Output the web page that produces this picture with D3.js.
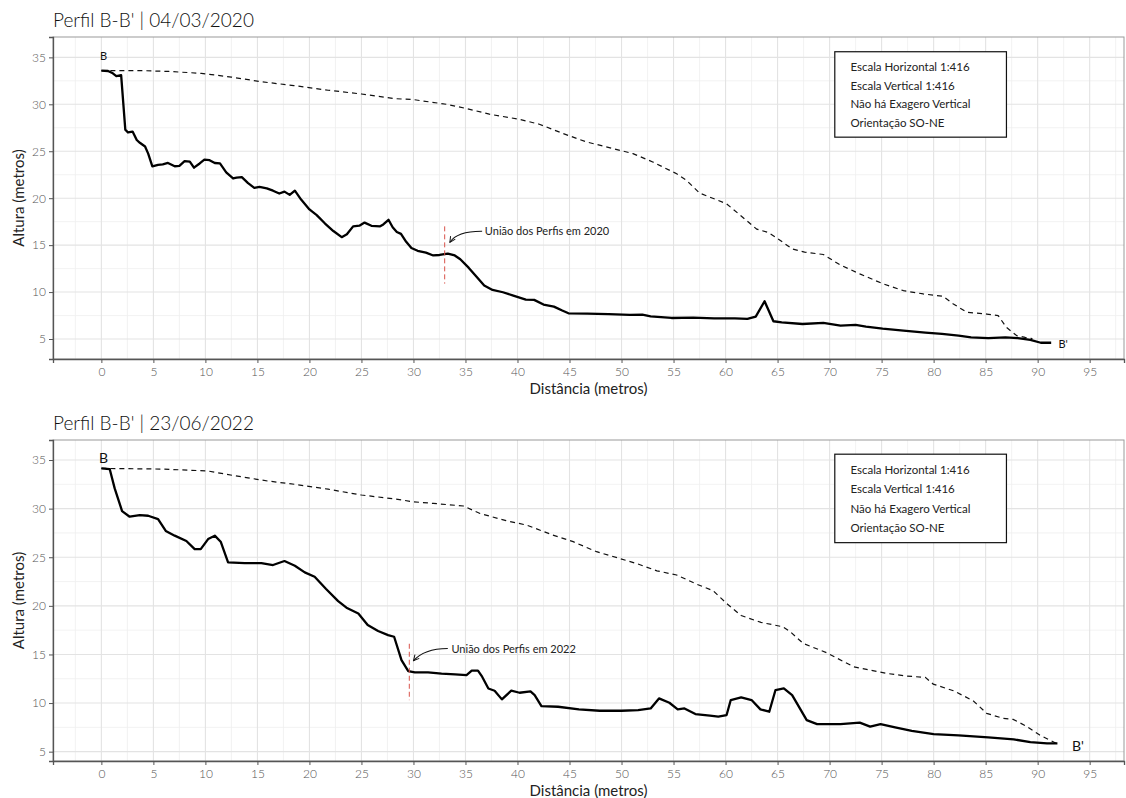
<!DOCTYPE html>
<html>
<head>
<meta charset="utf-8">
<script src="https://cdn.jsdelivr.net/npm/d3@7"></script>
<style>
  body { margin: 0; background: #fff; }
  text { font-family: Lato, "Open Sans", sans-serif; }
</style>
</head>
<body>
<div id="container"></div>
<script>
// perfil B-B' 2020 (linha cheia) e linha tracejada
var dist2020 = [0,0.64,1.1,1.44,1.9,2.3,2.56,3.0,3.4,3.7,4.2,4.5,4.9,5.45,5.9,6.4,7.05,7.5,8.0,8.5,8.9,9.45,9.9,10.4,10.9,11.4,12.0,12.66,13.0,13.5,14.1,14.7,15.2,15.9,16.5,17.1,17.6,18.1,18.6,19.2,20.0,20.7,21.5,22.3,23.1,23.6,24.2,24.8,25.3,25.96,26.8,27.1,27.6,28.0,28.4,28.8,29.3,29.8,30.4,31.2,31.9,32.5,33.3,33.97,34.5,35.3,36.0,36.8,37.6,38.6,39.6,40.8,41.6,42.5,43.5,44.3,44.9,46.7,48.75,50.8,52.0,52.8,54.8,56.9,58.9,60.9,62.1,62.9,63.75,64.6,65.4,67.4,69.4,71.05,72.5,73.5,75.1,77.1,79.2,80.8,82.4,83.6,85.25,86.9,88.1,89.3,90.3,91.3];
var alt2020 = [33.58,33.55,33.3,33.0,33.1,27.3,27.0,27.1,26.2,25.9,25.5,24.75,23.4,23.55,23.6,23.75,23.4,23.45,23.95,23.9,23.25,23.7,24.1,24.05,23.75,23.7,22.75,22.1,22.2,22.25,21.6,21.1,21.2,21.05,20.8,20.5,20.7,20.35,20.8,19.85,18.8,18.2,17.3,16.5,15.85,16.15,17.0,17.07,17.4,17.06,17.0,17.2,17.7,16.9,16.4,16.2,15.35,14.7,14.4,14.2,13.9,13.95,14.1,13.9,13.5,12.6,11.7,10.7,10.23,9.98,9.63,9.2,9.17,8.67,8.45,8.03,7.74,7.7,7.64,7.56,7.6,7.42,7.24,7.28,7.2,7.2,7.14,7.39,9.02,6.89,6.78,6.6,6.71,6.43,6.5,6.32,6.1,5.89,5.68,5.54,5.36,5.18,5.1,5.18,5.1,4.9,4.6,4.6];
var distTrac2020 = [0,4.2,6.5,9.6,12.5,15.4,18.5,21.8,25.0,28.2,30.0,33.2,35.1,37.3,40.2,42.1,44.4,46.6,49.2,51.1,53.0,55.3,56.25,57.5,60.1,61.4,63.0,64.1,65.0,66.4,67.6,69.4,71.0,72.9,75.15,77.1,79.0,80.9,81.9,83.2,85.1,86.2,87.0,88.0,88.8,89.5];
var altTrac2020 = [33.58,33.58,33.5,33.3,32.9,32.4,32.0,31.5,31.1,30.6,30.5,30.0,29.55,28.95,28.4,27.88,26.88,26.0,25.28,24.75,23.86,22.6,21.9,20.55,19.4,18.2,16.7,16.35,15.7,14.6,14.25,14.0,12.9,11.94,10.87,10.15,9.8,9.55,8.73,7.84,7.66,7.5,6.24,5.35,5.17,5.05];

// perfil B-B' 2022
var dist2022 = [0,0.8,1.28,1.99,2.72,3.69,4.5,5.45,6.19,7.05,8.17,8.97,9.55,10.26,10.9,11.47,12.18,13.78,15.38,16.5,17.6,18.6,19.55,20.5,21.6,22.76,23.56,24.7,25.6,26.6,27.56,28.14,28.85,29.5,30.13,31.4,32.7,34.0,35.1,35.6,36.2,36.6,37.2,37.8,38.5,39.4,40.2,41.25,41.65,42.3,43.9,45.9,47.9,50.0,51.6,52.8,53.6,54.6,55.4,56.05,57.1,58.5,59.3,60.1,60.5,61.5,62.5,63.35,64.2,64.8,65.6,66.4,67.8,68.8,71.05,72.9,73.9,74.9,76.3,77.9,80.0,82.4,85.25,87.7,89.3,90.9,91.9];
var alt2022 = [34.14,34.07,32.08,29.75,29.17,29.34,29.27,28.93,27.7,27.22,26.67,25.84,25.84,26.87,27.22,26.6,24.47,24.4,24.4,24.2,24.61,24.13,23.44,22.99,21.73,20.49,19.81,19.22,18.03,17.41,16.99,16.82,14.42,13.29,13.15,13.15,13.02,12.95,12.88,13.33,13.33,12.71,11.5,11.27,10.38,11.27,11.06,11.2,10.82,9.69,9.62,9.35,9.21,9.21,9.28,9.45,10.48,10.03,9.35,9.45,8.87,8.7,8.6,8.77,10.31,10.58,10.31,9.35,9.11,11.34,11.51,10.82,8.25,7.84,7.84,7.98,7.57,7.84,7.5,7.15,6.81,6.67,6.47,6.26,5.99,5.85,5.85];
var distTrac2022 = [0,5.77,10.26,12.8,16.0,18.6,21.8,25.0,28.2,30.0,31.9,34.8,36.4,38.9,40.9,43.4,45.35,47.6,49.8,51.4,53.4,55.3,57.2,58.8,60.1,61.5,63.4,65.5,66.2,67.46,69.7,72.3,73.55,75.5,77.4,79.2,79.96,81.9,83.8,85.1,86.7,87.65,88.9,90.2,91.8];
var altTrac2022 = [34.14,34.07,33.87,33.39,32.84,32.5,32.0,31.4,31.0,30.7,30.54,30.27,29.5,28.76,28.3,27.28,26.6,25.57,24.88,24.37,23.6,23.17,22.24,21.56,20.25,19.0,18.3,17.85,17.35,16.14,15.18,13.74,13.46,13.05,12.78,12.64,11.95,11.27,10.24,8.94,8.42,8.32,7.63,6.71,5.85];

// eixos
var xTicks = [0,5,10,15,20,25,30,35,40,45,50,55,60,65,70,75,80,85,90,95];
var yTicks = [5,10,15,20,25,30,35];
var legendLines = ["Escala Horizontal 1:416", "Escala Vertical 1:416", "Não há Exagero Vertical", "Orientação SO-NE"];

var W = 1126, H = 798;
var svg = d3.select("div#container")
  .append("svg")
  .attr("width", W)
  .attr("height", H);

svg.append("defs").append("marker")
    .attr("id", "seta")
    .attr("viewBox", "0 0 10 10")
    .attr("refX", 9).attr("refY", 5)
    .attr("markerWidth", 7).attr("markerHeight", 7)
    .attr("markerUnits", "userSpaceOnUse")
    .attr("orient", "auto")
  .append("path")
    .attr("d", "M1,1 L9,5 L1,9")
    .attr("fill", "none")
    .attr("stroke", "#111")
    .attr("stroke-width", 1.4);

var panels = [
  {title: "Perfil B-B' | 04/03/2020", top: 37, bottom: 359, yDom: [2.87, 37.17],
   dist: dist2020, alt: alt2020, distT: distTrac2020, altT: altTrac2020,
   uniao: {x: 33, y0: 17.0, y1: 10.9, label: "União dos Perfis em 2020", tx: 36.86, ty: 16.49,
           arrow: [[36.6, 16.48], [34.2, 16.5], [33.5, 15.3]]},
   bLabel: [0.2, 35.1, 11], bpLabel: [92.0, 4.5, 11]},
  {title: "Perfil B-B' | 23/06/2022", top: 440, bottom: 761, yDom: [4.04, 37.06],
   dist: dist2022, alt: alt2022, distT: distTrac2022, altT: altTrac2022,
   uniao: {x: 29.6, y0: 16.1, y1: 10.3, label: "União dos Perfis em 2022", tx: 33.65, ty: 15.52,
           arrow: [[33.3, 15.62], [31.0, 15.6], [30.0, 14.35]]},
   bLabel: [0.2, 35.2, 14], bpLabel: [93.3, 5.55, 14]}
];

var left = 53, right = 1124;

panels.forEach(function(p) { drawPanel(p); });

function drawPanel(p) {
  var x = d3.scaleLinear().domain([-4.65, 98.3]).range([left, right]);
  var y = d3.scaleLinear().domain(p.yDom).range([p.bottom, p.top]);
  var g = svg.append("g");

  // grelha secundaria
  var minorX = d3.range(-2.5, 98.3, 5);
  var minorY = d3.range(2.5, 38, 5).filter(function(v) { return v > p.yDom[0] && v < p.yDom[1]; });
  g.selectAll(".mx").data(minorX).enter().append("line")
    .attr("x1", function(d) { return x(d); }).attr("x2", function(d) { return x(d); })
    .attr("y1", p.top).attr("y2", p.bottom)
    .attr("stroke", "#efefef").attr("stroke-width", 0.8);
  g.selectAll(".my").data(minorY).enter().append("line")
    .attr("y1", function(d) { return y(d); }).attr("y2", function(d) { return y(d); })
    .attr("x1", left).attr("x2", right)
    .attr("stroke", "#efefef").attr("stroke-width", 0.8);
  // grelha principal
  g.selectAll(".gx").data(xTicks).enter().append("line")
    .attr("x1", function(d) { return x(d); }).attr("x2", function(d) { return x(d); })
    .attr("y1", p.top).attr("y2", p.bottom)
    .attr("stroke", "#e3e3e3").attr("stroke-width", 1.1);
  g.selectAll(".gy").data(yTicks).enter().append("line")
    .attr("y1", function(d) { return y(d); }).attr("y2", function(d) { return y(d); })
    .attr("x1", left).attr("x2", right)
    .attr("stroke", "#e3e3e3").attr("stroke-width", 1.1);

  // moldura
  g.append("rect")
    .attr("x", left).attr("y", p.top)
    .attr("width", right - left).attr("height", p.bottom - p.top)
    .attr("fill", "none").attr("stroke", "#9a9a9a").attr("stroke-width", 1);

  // eixos
  var xAxis = g.append("g")
    .attr("transform", "translate(0," + p.bottom + ")")
    .call(d3.axisBottom(x).tickValues(xTicks).tickSize(4).tickPadding(4));
  var yAxis = g.append("g")
    .attr("transform", "translate(" + left + ",0)")
    .call(d3.axisLeft(y).tickValues(yTicks).tickSize(4).tickPadding(3));
  [xAxis, yAxis].forEach(function(a) {
    a.select(".domain").attr("stroke", "#555").attr("stroke-width", 1.3);
    a.selectAll(".tick line").attr("stroke", "#555");
    a.selectAll(".tick text")
      .attr("fill", "#555")
      .style("font-size", "12px")
      .style("font-weight", "300")
      .style("font-family", "Lato, sans-serif");
  });

  // titulos
  svg.append("text")
    .attr("x", left).attr("y", p.top - 10)
    .style("font-size", "19px").style("font-weight", "300").attr("fill", "#111")
    .text(p.title);
  svg.append("text")
    .attr("x", (left + right) / 2).attr("y", p.bottom + 35)
    .attr("text-anchor", "middle")
    .style("font-size", "15px").attr("fill", "#222")
    .text("Distância (metros)");
  svg.append("text")
    .attr("transform", "translate(24," + ((p.top + p.bottom) / 2) + ") rotate(-90)")
    .attr("text-anchor", "middle")
    .style("font-size", "15px").attr("fill", "#222")
    .text("Altura (metros)");

  // linha tracejada
  var line = d3.line().x(function(d) { return x(d[0]); }).y(function(d) { return y(d[1]); });
  g.append("path")
    .datum(d3.zip(p.distT, p.altT))
    .attr("d", line)
    .attr("fill", "none").attr("stroke", "#111")
    .attr("stroke-width", 1.2).attr("stroke-dasharray", "5,4");
  // perfil
  g.append("path")
    .datum(d3.zip(p.dist, p.alt))
    .attr("d", line)
    .attr("fill", "none").attr("stroke", "#000")
    .attr("stroke-width", 2.3).attr("stroke-linejoin", "round");

  // uniao dos perfis
  var u = p.uniao;
  g.append("line")
    .attr("x1", x(u.x)).attr("x2", x(u.x))
    .attr("y1", y(u.y0)).attr("y2", y(u.y1))
    .attr("stroke", "#d9534a").attr("stroke-width", 1)
    .attr("stroke-dasharray", "5,3");
  var ap = d3.path();
  ap.moveTo(x(u.arrow[0][0]), y(u.arrow[0][1]));
  ap.quadraticCurveTo(x(u.arrow[1][0]), y(u.arrow[1][1]), x(u.arrow[2][0]), y(u.arrow[2][1]));
  g.append("path")
    .attr("d", ap.toString())
    .attr("fill", "none").attr("stroke", "#111").attr("stroke-width", 1.1)
    .attr("marker-end", "url(#seta)");
  g.append("text")
    .attr("x", x(u.tx)).attr("y", y(u.ty))
    .attr("dy", "0.35em")
    .style("font-size", "11px").attr("fill", "#222")
    .text(u.label);

  // B e B'
  g.append("text")
    .attr("x", x(p.bLabel[0])).attr("y", y(p.bLabel[1])).attr("dy", "0.35em")
    .attr("text-anchor", "middle")
    .style("font-size", p.bLabel[2] + "px").attr("fill", "#111")
    .text("B");
  g.append("text")
    .attr("x", x(p.bpLabel[0])).attr("y", y(p.bpLabel[1])).attr("dy", "0.35em")
    .style("font-size", p.bpLabel[2] + "px").attr("fill", "#111")
    .text("B'");

  // caixa de legenda
  g.append("rect")
    .attr("x", x(70.5)).attr("y", y(35.6))
    .attr("width", x(87) - x(70.5)).attr("height", y(26.5) - y(35.6))
    .attr("fill", "#fff").attr("stroke", "#111").attr("stroke-width", 1.2);
  g.selectAll(".leg").data(legendLines).enter().append("text")
    .attr("x", x(72))
    .attr("y", function(d, i) { return y(34 - 2 * i); })
    .attr("dy", "0.35em")
    .style("font-size", "11.5px").attr("fill", "#222")
    .text(function(d) { return d; });
}
</script>
</body>
</html>
